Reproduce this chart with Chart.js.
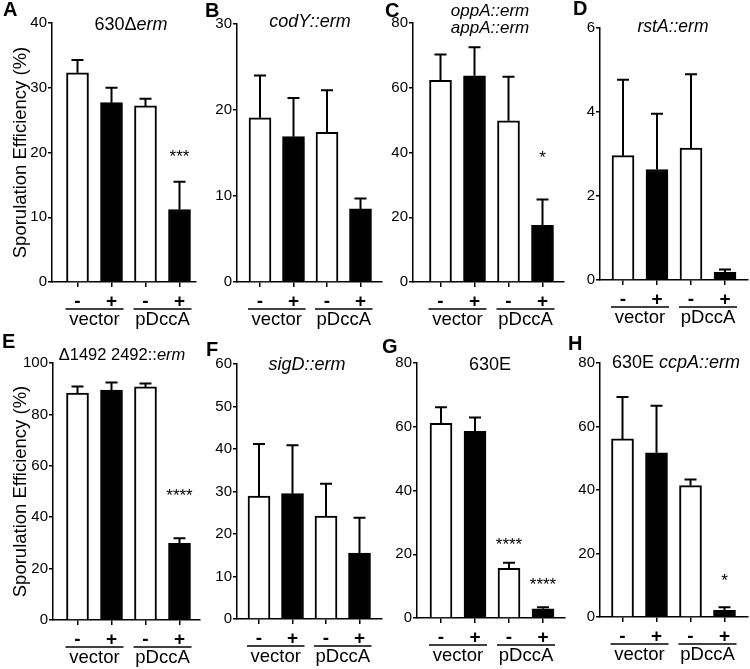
<!DOCTYPE html>
<html>
<head>
<meta charset="utf-8">
<script src="https://cdn.jsdelivr.net/npm/chart.js@4.4.1/dist/chart.umd.min.js"></script>
<style>
  body { margin: 0; background: #fff; }
  #fig { position: relative; width: 750px; height: 669px; overflow: hidden; background: #fff; }
  #fig canvas { position: absolute; }
</style>
</head>
<body>
<div id="fig"></div>
<script>
// categories and groups shared by all panels
var signs = ['-', '+', '-', '+'];
var groupNames = ['vector', 'pDccA'];
var positions = [1, 2, 3, 4];
var yTitle = 'Sporulation Efficiency (%)';

// means and upper end of error bar
var valuesA = [32.3, 27.7, 27.2, 11.2];
var errorsA = [34.3, 30.0, 28.3, 15.5];
var valuesB = [19.1, 16.9, 17.4, 8.5];
var errorsB = [24.0, 21.4, 22.3, 9.7];
var valuesC = [62.3, 63.7, 49.8, 17.5];
var errorsC = [70.3, 72.5, 63.4, 25.5];
var valuesD = [2.96, 2.63, 3.14, 0.18];
var errorsD = [4.77, 3.96, 4.90, 0.25];
var valuesE = [88.3, 89.5, 90.7, 29.8];
var errorsE = [90.9, 92.4, 92.0, 31.8];
var valuesF = [28.9, 29.5, 24.2, 15.5];
var errorsF = [41.2, 40.9, 31.8, 23.8];
var valuesG = [61.1, 58.6, 15.6, 2.9];
var errorsG = [66.1, 62.9, 17.3, 3.4];
var valuesH = [56.1, 51.7, 41.4, 2.1];
var errorsH = [69.3, 66.5, 43.3, 3.1];

// significance marks and the y value they sit at
var starsA = ['', '', '', '***'];     var starLevelA = [0, 0, 0, 20.1];
var starsC = ['', '', '', '*'];       var starLevelC = [0, 0, 0, 39.8];
var starsE = ['', '', '', '****'];    var starLevelE = [0, 0, 0, 50];
var starsG = ['', '', '****', '****']; var starLevelG = [0, 0, 24.3, 11.9];
var starsH = ['', '', '', '*'];       var starLevelH = [0, 0, 0, 12.7];
var noStars = ['', '', '', ''];       var noLevel = [0, 0, 0, 0];

// y axis ranges (max, step)
var yMaxes = [40, 30, 80, 6, 100, 60, 80, 80];
var ySteps = [10, 10, 20, 2, 20, 10, 20, 20];

// titles: [text, italic]
var titleA = [[['630\u0394', false], ['erm', true]]];
var titleB = [[['codY::erm', true]]];
var titleC = [[['oppA::erm', true]], [['appA::erm', true]]];
var titleD = [[['rstA::erm', true]]];
var titleE = [[['\u03941492 2492::', false], ['erm', true]]];
var titleF = [[['sigD::erm', true]]];
var titleG = [[['630E', false]]];
var titleH = [[['630E ', false], ['ccpA::erm', true]]];

var FONT = "'Liberation Sans', Arial, Helvetica, sans-serif";
Chart.defaults.font.family = FONT;
Chart.defaults.color = '#000';

// layout of each panel on the page
var panels = [
  { letter: 'A', letterAt: [3, 10], values: valuesA, errors: errorsA, stars: starsA, starLevel: starLevelA, title: titleA, titleAt: [131, 25], titleSize: 18, lineGap: 17,
    box: [0, 0, 200, 330], axisL: 52, axisR: 196, first: 77.5, gap: 34, top: 23, bottom: 282, yTitle: true },
  { letter: 'B', letterAt: [205, 11], values: valuesB, errors: errorsB, stars: noStars, starLevel: noLevel, title: titleB, titleAt: [310, 22], titleSize: 18, lineGap: 17,
    box: [190, 0, 194, 330], axisL: 237, axisR: 382, first: 260, gap: 33.5, top: 24, bottom: 282 },
  { letter: 'C', letterAt: [385, 11], values: valuesC, errors: errorsC, stars: starsC, starLevel: starLevelC, title: titleC, titleAt: [490, 11], titleSize: 17, lineGap: 17,
    box: [370, 0, 196, 330], axisL: 413, axisR: 564, first: 440.5, gap: 34, top: 23, bottom: 282 },
  { letter: 'D', letterAt: [573, 9], values: valuesD, errors: errorsD, stars: noStars, starLevel: noLevel, title: titleD, titleAt: [673, 27], titleSize: 17.5, lineGap: 17,
    box: [560, 0, 190, 330], axisL: 600, axisR: 748, first: 623, gap: 34, top: 28, bottom: 280 },
  { letter: 'E', letterAt: [2, 342], values: valuesE, errors: errorsE, stars: starsE, starLevel: starLevelE, title: titleE, titleAt: [122, 355], titleSize: 16.5, lineGap: 17,
    box: [0, 330, 204, 339], axisL: 53, axisR: 200, first: 77.5, gap: 34, top: 363, bottom: 620, yTitle: true },
  { letter: 'F', letterAt: [206, 350], values: valuesF, errors: errorsF, stars: noStars, starLevel: noLevel, title: titleF, titleAt: [307, 365], titleSize: 18, lineGap: 17,
    box: [190, 330, 194, 339], axisL: 237, axisR: 382, first: 259, gap: 33.5, top: 364, bottom: 619 },
  { letter: 'G', letterAt: [382, 347], values: valuesG, errors: errorsG, stars: starsG, starLevel: starLevelG, title: titleG, titleAt: [490, 365], titleSize: 18, lineGap: 17,
    box: [370, 330, 196, 339], axisL: 417, axisR: 565, first: 441, gap: 34, top: 363, bottom: 618 },
  { letter: 'H', letterAt: [568, 344], values: valuesH, errors: errorsH, stars: starsH, starLevel: starLevelH, title: titleH, titleAt: [676, 363], titleSize: 18, lineGap: 17,
    box: [560, 330, 190, 339], axisL: 600, axisR: 748, first: 622.5, gap: 34, top: 363, bottom: 617 }
];

function drawTitleLine(ctx, segs, cx, cy, size) {
  var total = 0;
  segs.forEach(function (s) {
    ctx.font = (s[1] ? 'italic ' : '') + size + 'px ' + FONT;
    total += ctx.measureText(s[0]).width;
  });
  var x = cx - total / 2;
  ctx.textAlign = 'left';
  ctx.textBaseline = 'middle';
  segs.forEach(function (s) {
    ctx.font = (s[1] ? 'italic ' : '') + size + 'px ' + FONT;
    ctx.fillText(s[0], x, cy);
    x += ctx.measureText(s[0]).width;
  });
}

function makeDeco(p) {
  return {
    id: 'deco' + p.letter,
    afterDatasetsDraw: function (chart) {
      var ctx = chart.ctx;
      var meta = chart.getDatasetMeta(0);
      var ys = chart.scales.y;
      ctx.save();
      ctx.strokeStyle = '#000';
      ctx.lineWidth = 2;
      meta.data.forEach(function (bar, i) {
        var yTop = ys.getPixelForValue(p.values[i]);
        var yErr = ys.getPixelForValue(p.errors[i]);
        ctx.beginPath();
        ctx.moveTo(bar.x, yTop);
        ctx.lineTo(bar.x, yErr);
        ctx.moveTo(bar.x - 6, yErr);
        ctx.lineTo(bar.x + 6, yErr);
        ctx.stroke();
      });
      ctx.restore();
    },
    afterDraw: function (chart) {
      var ctx = chart.ctx;
      var ox = p.box[0], oy = p.box[1];
      var xs = chart.scales.x, ys = chart.scales.y;
      var bottom = chart.chartArea.bottom;
      ctx.save();
      ctx.fillStyle = '#000';
      ctx.strokeStyle = '#000';

      // panel letter
      ctx.font = 'bold 20px ' + FONT;
      ctx.textAlign = 'left';
      ctx.textBaseline = 'middle';
      ctx.fillText(p.letter, p.letterAt[0] - ox, p.letterAt[1] - oy);

      // strain title
      p.title.forEach(function (line, k) {
        drawTitleLine(ctx, line, p.titleAt[0] - ox, p.titleAt[1] - oy + k * p.lineGap, p.titleSize);
      });

      // significance stars
      ctx.font = '17px ' + FONT;
      ctx.textAlign = 'center';
      ctx.textBaseline = 'alphabetic';
      p.stars.forEach(function (s, i) {
        if (!s) return;
        ctx.fillText(s, xs.getPixelForValue(positions[i]), ys.getPixelForValue(p.starLevel[i]) + 9.8);
      });

      // group underline and labels
      ctx.lineWidth = 1.3;
      ctx.font = '18.5px ' + FONT;
      ctx.textBaseline = 'middle';
      groupNames.forEach(function (g, k) {
        var x1 = xs.getPixelForValue(positions[2 * k]) - 12;
        var x2 = xs.getPixelForValue(positions[2 * k + 1]) + 12;
        ctx.beginPath();
        ctx.moveTo(x1, bottom + 27);
        ctx.lineTo(x2, bottom + 27);
        ctx.stroke();
        ctx.fillText(g, (x1 + x2) / 2, bottom + 38);
      });
      ctx.restore();
    }
  };
}

function buildPanel(p, idx) {
  var fig = document.getElementById('fig');
  var cv = document.createElement('canvas');
  cv.width = p.box[2];
  cv.height = p.box[3];
  cv.style.left = p.box[0] + 'px';
  cv.style.top = p.box[1] + 'px';
  fig.appendChild(cv);

  var yW = p.axisL - p.box[0];
  var xH = p.box[1] + p.box[3] - p.bottom;
  var xMin = 1 - (p.first - p.axisL) / p.gap;
  var xMax = 4 + (p.axisR - p.first - 3 * p.gap) / p.gap;

  new Chart(cv, {
    type: 'bar',
    data: {
      datasets: [{
        data: positions.map(function (x, i) { return { x: x, y: p.values[i] }; }),
        backgroundColor: positions.map(function (x, i) { return i % 2 ? '#000' : '#fff'; }),
        borderColor: '#000',
        borderWidth: 2,
        borderSkipped: 'start',
        barThickness: 22
      }]
    },
    options: {
      responsive: false,
      animation: false,
      devicePixelRatio: 1,
      layout: { padding: { left: 0, right: p.box[0] + p.box[2] - p.axisR, top: p.top - p.box[1], bottom: 0 } },
      plugins: { legend: { display: false }, tooltip: { enabled: false } },
      scales: {
        x: {
          type: 'linear',
          min: xMin,
          max: xMax,
          offset: false,
          afterBuildTicks: function (s) { s.ticks = positions.map(function (v) { return { value: v }; }); },
          afterFit: function (s) { s.height = xH; },
          ticks: {
            autoSkip: false,
            maxRotation: 0,
            padding: 3,
            color: '#000',
            font: { size: 19, weight: 'bold' },
            callback: function (v, i) { return signs[i]; }
          },
          grid: { drawOnChartArea: false, offset: false, tickLength: 5, color: '#000', lineWidth: 1.5 },
          border: { color: '#000', width: 1.5 }
        },
        y: {
          min: 0,
          max: yMaxes[idx],
          afterFit: function (s) { s.width = yW; },
          ticks: { stepSize: ySteps[idx], padding: 1, color: '#000', font: { size: 15 } },
          grid: { drawOnChartArea: false, tickLength: 4, color: '#000', lineWidth: 1.5 },
          border: { color: '#000', width: 1.5 },
          title: {
            display: !!p.yTitle,
            text: yTitle,
            color: '#000',
            font: { size: 18.5 },
            padding: { top: 10, bottom: 0 }
          }
        }
      }
    },
    plugins: [makeDeco(p)]
  });
}

panels.forEach(buildPanel);
</script>
</body>
</html>
